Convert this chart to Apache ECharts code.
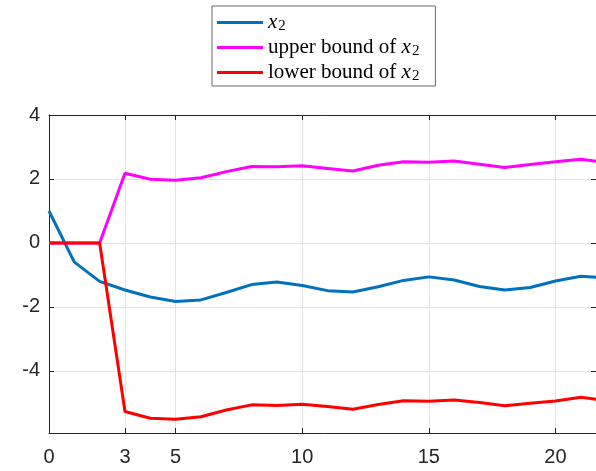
<!DOCTYPE html>
<html>
<head>
<meta charset="utf-8">
<script src="https://cdn.jsdelivr.net/npm/echarts@6/dist/echarts.min.js"></script>
<style>
html,body{margin:0;padding:0;background:#fff;}
#main{width:596px;height:471px;}
</style>
</head>
<body>
<div id="main"></div>
<script>
// Data
const steps = [0,1,2,3,4,5,6,7,8,9,10,11,12,13,14,15,16,17,18,19,20,21,22];
const x2 = [1.0,-0.6,-1.2,-1.47,-1.69,-1.83,-1.78,-1.55,-1.30,-1.22,-1.33,-1.49,-1.53,-1.37,-1.17,-1.06,-1.16,-1.36,-1.47,-1.39,-1.19,-1.04,-1.09];
const upperX2 = [0,0,0,2.18,1.99,1.96,2.04,2.23,2.39,2.38,2.41,2.33,2.25,2.43,2.54,2.52,2.56,2.46,2.36,2.45,2.54,2.62,2.51];
const lowerX2 = [0,0,0,-5.27,-5.48,-5.51,-5.43,-5.22,-5.06,-5.08,-5.04,-5.11,-5.20,-5.05,-4.93,-4.95,-4.91,-4.99,-5.09,-5.01,-4.94,-4.82,-4.93];
const xTicks = [0,3,5,10,15,20];
const yTicks = [-4,-2,0,2,4];
const seriesNames = ['x2','upper','lower'];

const pairs = arr => steps.map((s,i)=>[s, arr[i]]);
const axisColor = '#262626';
const gridColor = '#e3e3e3';
const sans = 'Liberation Sans, Arial, sans-serif';
const serif = 'Liberation Serif, DejaVu Serif, serif';

const chart = echarts.init(document.getElementById('main'), null, {renderer:'canvas'});
const xMin = 0, xMax = 21.6, yMin = -5.94, yMax = 4;

chart.setOption({
  animation:false,
  backgroundColor:'#fff',
  grid:{left:49, right:-1, top:115, bottom:38, containLabel:false},
  legend:{
    orient:'vertical',
    left:212, top:6,
    padding:[5,16,2,5],
    itemGap:2,
    itemWidth:46, itemHeight:3,
    icon:'rect',
    borderColor:'#666', borderWidth:1,
    backgroundColor:'#fff',
    data:seriesNames,
    formatter:function(name){
      if(name==='x2') return '{i|x}{s|2}';
      if(name==='upper') return '{t|upper bound of }{i|x}{s|2}';
      return '{t|lower bound of }{i|x}{s|2}';
    },
    textStyle:{
      color:'#000', fontFamily:serif, fontSize:21, lineHeight:20,
      rich:{
        t:{fontFamily:serif, fontSize:21, color:'#000', lineHeight:20},
        i:{fontFamily:serif, fontStyle:'italic', fontSize:21, color:'#000', lineHeight:20},
        s:{fontFamily:serif, fontSize:15, color:'#000', padding:[8,0,0,1], lineHeight:20}
      }
    }
  },
  xAxis:[{
    type:'value', min:xMin, max:xMax, position:'bottom',
    axisLine:{onZero:false, lineStyle:{color:axisColor, width:1}},
    axisTick:{inside:true, length:5, customValues:xTicks, lineStyle:{color:axisColor}},
    axisLabel:{customValues:xTicks, color:axisColor, fontFamily:sans, fontSize:20, margin:14, showMinLabel:true, showMaxLabel:true},
    splitLine:{show:true, lineStyle:{color:gridColor, width:1}}
  },{
    type:'value', min:xMin, max:xMax, position:'top',
    axisLine:{onZero:false, lineStyle:{color:axisColor, width:1}},
    axisTick:{inside:true, length:5, customValues:xTicks, lineStyle:{color:axisColor}},
    axisLabel:{show:false},
    splitLine:{show:false}
  }],
  yAxis:[{
    type:'value', min:yMin, max:yMax, position:'left',
    axisLine:{show:true, onZero:false, lineStyle:{color:axisColor, width:1}},
    axisTick:{show:true, inside:true, length:5, customValues:yTicks, lineStyle:{color:axisColor}},
    axisLabel:{customValues:yTicks, color:axisColor, fontFamily:sans, fontSize:20, margin:9},
    splitLine:{show:true, lineStyle:{color:gridColor, width:1}}
  },{
    type:'value', min:yMin, max:yMax, position:'right',
    axisLine:{show:true, onZero:false, lineStyle:{color:axisColor, width:1}},
    axisTick:{show:true, inside:true, length:5, customValues:yTicks, lineStyle:{color:axisColor}},
    axisLabel:{show:false},
    splitLine:{show:false}
  }],
  series:[
    {name:'x2', type:'line', data:pairs(x2), symbol:'none', clip:true,
     lineStyle:{color:'#0072BD', width:3}, itemStyle:{color:'#0072BD'}, z:2},
    {name:'upper', type:'line', data:pairs(upperX2), symbol:'none', clip:true,
     lineStyle:{color:'#FF00FF', width:3}, itemStyle:{color:'#FF00FF'}, z:3},
    {name:'lower', type:'line', data:pairs(lowerX2), symbol:'none', clip:true,
     lineStyle:{color:'#FF0000', width:3}, itemStyle:{color:'#FF0000'}, z:4}
  ]
});
</script>
</body>
</html>
